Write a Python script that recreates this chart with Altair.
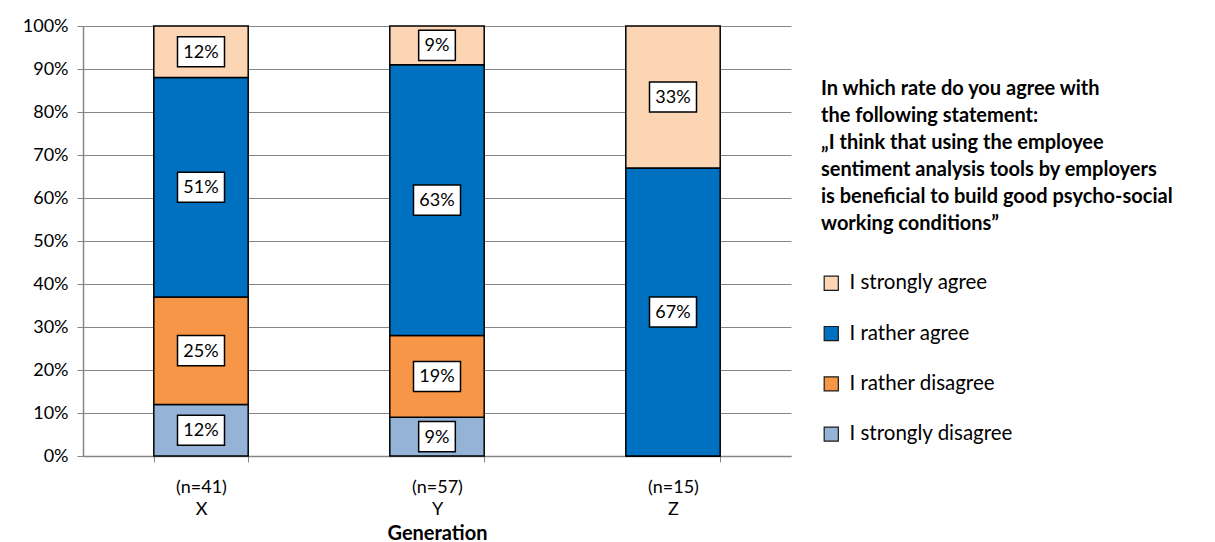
import altair as alt
import pandas as pd

# Survey answers by generation (percent of respondents)
generations = ["X", "Y", "Z"]
sample_sizes = [41, 57, 15]
answers = ["I strongly disagree", "I rather disagree", "I rather agree", "I strongly agree"]
strongly_disagree = [12, 9, 0]
rather_disagree = [25, 19, 0]
rather_agree = [51, 63, 67]
strongly_agree = [12, 9, 33]

legend_order = ["I strongly agree", "I rather agree", "I rather disagree", "I strongly disagree"]
legend_colors = ["#FCD5B5", "#0070C0", "#F79646", "#95B3D7"]

title_lines = [
    "In which rate do you agree with",
    "the following statement:",
    "\u201eI think that using the employee",
    "sentiment analysis tools by employers",
    "is beneficial to build good psycho-social",
    "working conditions\u201d",
]

FONT = "Lato"

rows = []
series = [strongly_disagree, rather_disagree, rather_agree, strongly_agree]
for gi, g in enumerate(generations):
    base = 0
    for ai, a in enumerate(answers):
        v = series[ai][gi]
        rows.append({
            "gen": f"(n={sample_sizes[gi]})|{g}",
            "answer": a,
            "value": v,
            "lo": base,
            "hi": base + v,
            "mid": base + v / 2,
            "label": f"{v}%",
            "box": "wide" if v >= 10 else "narrow",
        })
        base += v
df = pd.DataFrame(rows)
gen_domain = [f"(n={n})|{g}" for g, n in zip(generations, sample_sizes)]

x_enc = alt.X(
    "gen:N",
    sort=gen_domain,
    scale=alt.Scale(domain=gen_domain, paddingInner=0.6, paddingOuter=0.3),
    axis=alt.Axis(
        title="Generation",
        labelExpr="isValid(datum.value) ? split(datum.value, '|') : ''",
        labelAngle=0,
        labelFont=FONT,
        labelFontSize=18,
        labelColor="#000000",
        labelPadding=16,
        labelLineHeight=22,
        titleFont=FONT,
        titleFontSize=20,
        titleFontWeight="bold",
        titleColor="#000000",
        titlePadding=5,
        tickBand="extent",
        tickSize=6,
        tickColor="#868686",
        domainColor="#868686",
        domainWidth=1.5,
        grid=False,
    ),
)

bars = alt.Chart(df).mark_bar(stroke="#000000", strokeWidth=1.5).encode(
    x=x_enc,
    y=alt.Y(
        "lo:Q",
        scale=alt.Scale(domain=[0, 100]),
        axis=alt.Axis(
            title=None,
            values=list(range(0, 101, 10)),
            labelExpr="datum.value + '%'",
            labelFont=FONT,
            labelFontSize=18,
            labelColor="#000000",
            labelPadding=9,
            tickSize=6,
            tickColor="#868686",
            domainColor="#868686",
            domainWidth=1.5,
            gridColor="#868686",
            gridWidth=1.2,
        ),
    ),
    y2="hi:Q",
    color=alt.Color(
        "answer:N",
        scale=alt.Scale(domain=legend_order, range=legend_colors),
        legend=alt.Legend(
            title=title_lines,
            orient="none",
            legendX=738,
            legendY=53,
            titleFont=FONT,
            titleFontSize=20,
            titleFontWeight="bold",
            titleColor="#000000",
            titleLineHeight=27,
            titlePadding=39,
            titleLimit=600,
            labelFont=FONT,
            labelFontSize=20.5,
            labelColor="#000000",
            symbolType="square",
            symbolSize=200,
            symbolStrokeColor="#1a1a1a",
            symbolStrokeWidth=1.2,
            rowPadding=29.3,
            labelOffset=8,
            labelLimit=400,
        ),
    ),
)

data_labels = df[df["value"] > 0]
box_shapes = alt.Scale(
    domain=["wide", "narrow"],
    range=["M-1,-0.64H1V0.64H-1Z", "M-0.78,-0.64H0.78V0.64H-0.78Z"],
)

boxes = alt.Chart(data_labels).mark_point(
    filled=True, fill="#FFFFFF", stroke="#000000", strokeWidth=1.5, size=2209, opacity=1
).encode(
    x=alt.X("gen:N", sort=gen_domain),
    y=alt.Y("mid:Q"),
    shape=alt.Shape("box:N", scale=box_shapes, legend=None),
)

texts = alt.Chart(data_labels).mark_text(
    font=FONT, fontSize=18, color="#000000", baseline="middle", align="center", dy=1
).encode(
    x=alt.X("gen:N", sort=gen_domain),
    y=alt.Y("mid:Q"),
    text="label:N",
)

chart = (
    alt.layer(bars, boxes, texts)
    .properties(
        width=708,
        height=430,
        autosize=alt.AutoSizeParams(type="none"),
        padding={"left": 83, "top": 26, "right": 424, "bottom": 86},
        background="#FFFFFF",
    )
    .configure_view(stroke=None)
)

chart.save("out.html", embed_options={"renderer": "svg", "actions": False})
